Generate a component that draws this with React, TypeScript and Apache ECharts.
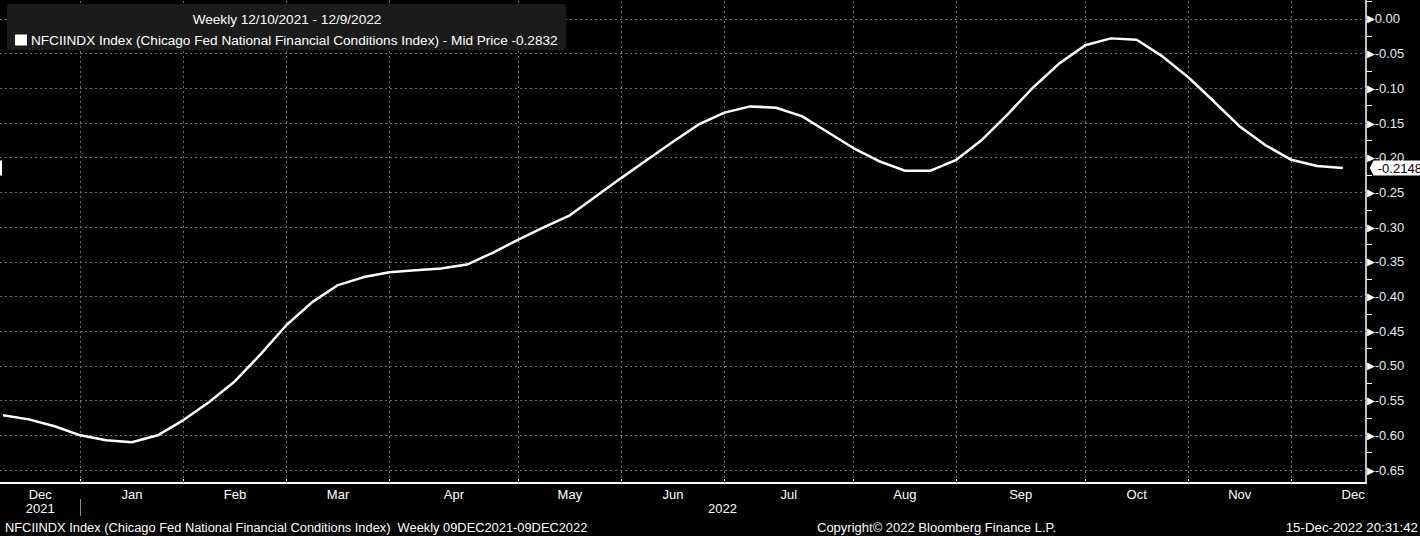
import React, { useEffect, useRef } from "react";
import * as echarts from "echarts";

// Weekly observations 12/10/2021 .. 12/9/2022 (53 Fridays)
const weeks: string[] = [
  "2021-12-10", "2021-12-17", "2021-12-24", "2021-12-31",
  "2022-01-07", "2022-01-14", "2022-01-21", "2022-01-28",
  "2022-02-04", "2022-02-11", "2022-02-18", "2022-02-25",
  "2022-03-04", "2022-03-11", "2022-03-18", "2022-03-25",
  "2022-04-01", "2022-04-08", "2022-04-15", "2022-04-22", "2022-04-29",
  "2022-05-06", "2022-05-13", "2022-05-20", "2022-05-27",
  "2022-06-03", "2022-06-10", "2022-06-17", "2022-06-24",
  "2022-07-01", "2022-07-08", "2022-07-15", "2022-07-22", "2022-07-29",
  "2022-08-05", "2022-08-12", "2022-08-19", "2022-08-26",
  "2022-09-02", "2022-09-09", "2022-09-16", "2022-09-23", "2022-09-30",
  "2022-10-07", "2022-10-14", "2022-10-21", "2022-10-28",
  "2022-11-04", "2022-11-11", "2022-11-18", "2022-11-25",
  "2022-12-02", "2022-12-09",
];

const nfci: number[] = [
  -0.571, -0.577, -0.587, -0.6, -0.607, -0.61, -0.6, -0.578, -0.552, -0.522,
  -0.483, -0.441, -0.408, -0.3835, -0.372, -0.365, -0.362, -0.3595, -0.354, -0.337,
  -0.318, -0.3, -0.283, -0.256, -0.229, -0.203, -0.177, -0.152, -0.135, -0.126,
  -0.128, -0.14, -0.163, -0.186, -0.205, -0.2186, -0.2186, -0.203, -0.174, -0.137,
  -0.098, -0.064, -0.038, -0.028, -0.03, -0.054, -0.084, -0.119, -0.155, -0.182,
  -0.203, -0.212, -0.2148,
];

// month boundaries (week index) and month label positions
const monthBoundaries: number[] = [3, 7, 11, 15, 20, 24, 28, 33, 37, 42, 46, 50];
const monthNames: string[] = ["Dec", "Jan", "Feb", "Mar", "Apr", "May", "Jun", "Jul", "Aug", "Sep", "Oct", "Nov", "Dec"];
const monthLabelPos: number[] = [1.44, 5, 9, 13, 17.5, 22, 26, 30.5, 35, 39.5, 44, 48, 52.4];
const yearNames: string[] = ["2021", "2022"];
const yearLabelPos: number[] = [1.44, 27.92];
const yearSeparator: number[] = [3];

const yMajor: number[] = [0, -0.05, -0.1, -0.15, -0.2, -0.25, -0.3, -0.35, -0.4, -0.45, -0.5, -0.55, -0.6, -0.65];
const yMinor: number[] = [0.025, -0.025, -0.075, -0.125, -0.175, -0.225, -0.275, -0.325, -0.375, -0.425, -0.475, -0.525, -0.575, -0.625];

const lastValue = -0.2148;
const seriesName = "NFCIINDX Index";
const legendText = "NFCIINDX Index (Chicago Fed National Financial Conditions Index) - Mid Price -0.2832";
const headerText = "Weekly 12/10/2021 - 12/9/2022";
const footerLeft = "NFCIINDX Index (Chicago Fed National Financial Conditions Index)  Weekly 09DEC2021-09DEC2022";
const footerMid = "Copyright\u00a9 2022 Bloomberg Finance L.P.";
const footerRight = "15-Dec-2022 20:31:42";

const FONT = "'Liberation Sans', Arial, sans-serif";

const nearestLabel = (v: number, pos: number[], names: string[]) => {
  let best = 0;
  for (let i = 1; i < pos.length; i++) if (Math.abs(pos[i] - v) < Math.abs(pos[best] - v)) best = i;
  return names[best];
};

export default function App() {
  const ref = useRef<HTMLDivElement>(null);
  useEffect(() => {
    document.body.style.margin = "0";
    document.body.style.background = "#000";
    const chart = echarts.init(ref.current!, undefined, { renderer: "svg" });
    const data = nfci.map((v, i) => [i, v]);
    const gridStyle = { color: "#6f6f6f", width: 1, type: [2, 3] as any };
    chart.setOption({
      animation: false,
      backgroundColor: "#000",
      textStyle: { fontFamily: FONT },
      grid: { left: 0, right: 54, top: 0, bottom: 53, containLabel: false, outerBoundsMode: "none" },
      legend: {
        show: true,
        left: 15,
        top: 33,
        padding: 0,
        z: 20,
        icon: "rect",
        itemWidth: 12,
        itemHeight: 11,
        itemGap: 4,
        data: [{ name: seriesName, itemStyle: { color: "#fff" } }],
        formatter: () => legendText,
        textStyle: { color: "#ffffff", fontSize: 13.6, fontFamily: FONT, padding: [0, 0, 0, -1] },
      },
      graphic: [
        {
          type: "rect",
          z: 10,
          shape: { x: 7, y: 4, width: 559, height: 46, r: 3 },
          style: { fill: "#1b1b1b" },
        },
        {
          type: "text",
          z: 21,
          x: 287,
          y: 19,
          style: { text: headerText, fill: "#ffffff", font: `13.6px ${FONT}`, textAlign: "center", textVerticalAlign: "middle" },
        },
        {
          type: "text",
          x: 5,
          y: 527,
          style: { text: footerLeft, fill: "#ffffff", font: `12.85px ${FONT}`, textAlign: "left", textVerticalAlign: "middle" },
        },
        {
          type: "text",
          x: 817,
          y: 527,
          style: { text: footerMid, fill: "#ffffff", font: `13px ${FONT}`, textAlign: "left", textVerticalAlign: "middle" },
        },
        {
          type: "text",
          x: 1418,
          y: 527,
          style: { text: footerRight, fill: "#ffffff", font: `13.3px ${FONT}`, textAlign: "right", textVerticalAlign: "middle" },
        },
      ],
      xAxis: [
        {
          type: "value",
          min: -0.12,
          max: 52.9,
          position: "bottom",
          axisLine: { show: true, onZero: false, lineStyle: { color: "#ffffff", width: 2 } },
          axisTick: { show: true, inside: true, length: 4, customValues: monthBoundaries, lineStyle: { color: "#ffffff", width: 1 } },
          axisLabel: {
            show: true,
            customValues: monthLabelPos,
            formatter: (v: number) => nearestLabel(v, monthLabelPos, monthNames),
            color: "#ffffff",
            fontSize: 13,
            fontFamily: FONT,
            margin: 5,
          },
          splitLine: { show: false },
        },
        {
          type: "value",
          min: -0.12,
          max: 52.9,
          position: "bottom",
          offset: 16,
          axisLine: { show: false, onZero: false },
          axisTick: { show: true, inside: false, length: 17, customValues: yearSeparator, lineStyle: { color: "#8a8a8a", width: 1 } },
          axisLabel: {
            show: true,
            customValues: yearLabelPos,
            formatter: (v: number) => nearestLabel(v, yearLabelPos, yearNames),
            color: "#ffffff",
            fontSize: 13,
            fontFamily: FONT,
            margin: 3,
          },
          splitLine: { show: false },
        },
      ],
      yAxis: {
        type: "value",
        position: "right",
        min: -0.6687,
        max: 0.0273,
        axisLine: { show: true, onZero: false, lineStyle: { color: "#ffffff", width: 1.5 } },
        axisTick: { show: true, inside: false, length: 6, customValues: yMinor, lineStyle: { color: "#ffffff", width: 1 } },
        axisLabel: {
          show: true,
          customValues: yMajor,
          margin: 1,
          formatter: (v: number) => `{t|\u25B6}{v|${(Math.abs(v) < 1e-9 ? 0 : v).toFixed(2)}}`,
          rich: {
            t: { color: "#ffffff", fontSize: 10, fontFamily: "DejaVu Sans", padding: [0, 0, 0, 0] },
            v: { color: "#e4ecf6", fontSize: 13, fontFamily: FONT },
          },
        },
        splitLine: { show: false },
      },
      series: [
        {
          name: "grid",
          type: "line",
          data,
          z: 1,
          silent: true,
          showSymbol: false,
          symbol: "none",
          lineStyle: { opacity: 0 },
          legendHoverLink: false,
          markLine: {
            silent: true,
            symbol: ["none", "none"],
            label: { show: false },
            lineStyle: gridStyle,
            data: [
              ...monthBoundaries.map((x) => ({ xAxis: x })),
              ...yMajor.map((y) => ({ yAxis: y })),
            ],
          },
        },
        {
          name: seriesName,
          type: "line",
          data,
          z: 5,
          symbol: "none",
          showSymbol: false,
          smooth: false,
          color: "#ffffff",
          lineStyle: { color: "#ffffff", width: 2.5 },
          markPoint: {
            silent: true,
            data: [
              {
                coord: [nfci.length - 1, lastValue],
                value: lastValue,
                symbol: "path://M0,8 L4,0 L60,0 L60,16 L4,16 Z",
                symbolSize: [56, 15],
                symbolOffset: [55, 0],
                itemStyle: { color: "#ffffff" },
                label: {
                  show: true,
                  position: "inside",
                  offset: [2, 0],
                  formatter: () => lastValue.toFixed(4),
                  color: "#000000",
                  fontSize: 13,
                  fontFamily: FONT,
                },
              },
              {
                coord: [-0.12, lastValue],
                symbol: "rect",
                symbolSize: [4, 15],
                itemStyle: { color: "#ffffff" },
                label: { show: false },
              },
            ],
          },
        },
      ],
    });
    return () => chart.dispose();
  }, []);
  return <div ref={ref} style={{ width: 1420, height: 536 }} />;
}
